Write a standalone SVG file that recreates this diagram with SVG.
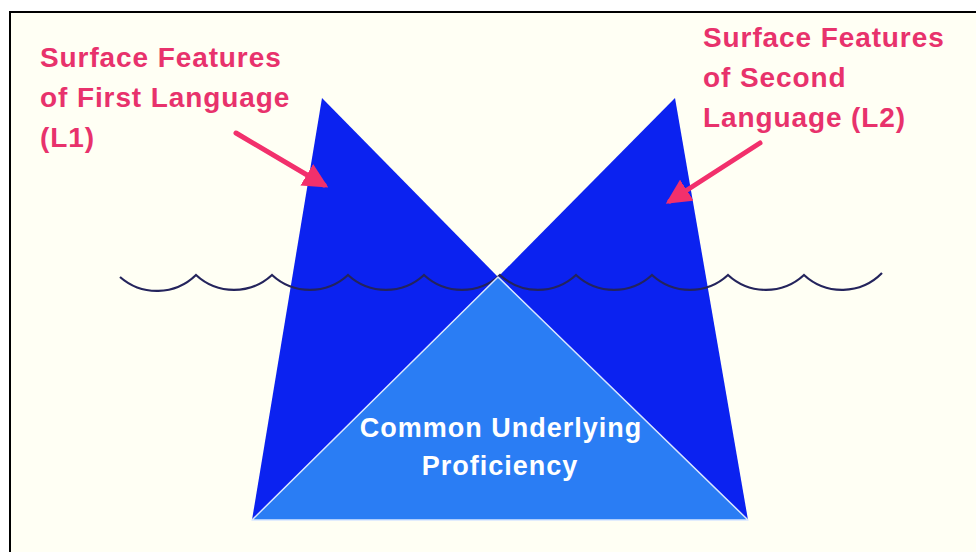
<svg xmlns="http://www.w3.org/2000/svg" width="976" height="552" viewBox="0 0 976 552">
<style>
.lbl{font-family:"Liberation Sans",Arial,sans-serif;font-weight:bold;font-size:28px;letter-spacing:0.9px;fill:#e8326c}
.cup{font-family:"Liberation Sans",Arial,sans-serif;font-weight:bold;font-size:27px;letter-spacing:1px;fill:#ffffff;text-anchor:middle}
.arrow{stroke:#f2306c;stroke-width:5;fill:none;stroke-linecap:round}
</style>
<defs>
<marker id="ah" viewBox="0 0 10 10" refX="8" refY="5" markerWidth="5" markerHeight="5" orient="auto" markerUnits="strokeWidth">
<path d="M0,0 L10,5 L0,10 z" fill="#f2306c"/>
</marker>
</defs>
<rect width="976" height="552" fill="#ffffff"/>
<rect x="10" y="12" width="980" height="560" fill="#fffff4" stroke="#000" stroke-width="2"/>
<g id="l1-iceberg"><polygon points="322,98 498,277 252,520" fill="#0b22f0"/></g>
<g id="l2-iceberg"><polygon points="675,98 498,277 748,520" fill="#0b22f0"/></g>
<g id="waterline">
<path d="M120,277 A56 56 0 0 0 196,275 A56 56 0 0 0 272,275 A56 56 0 0 0 348,275 A56 56 0 0 0 424,275 A56 56 0 0 0 500,275 A56 56 0 0 0 576,275 A56 56 0 0 0 652,275 A56 56 0 0 0 728,275 A56 56 0 0 0 804,275 A56 56 0 0 0 882,273" fill="none" stroke="#24245c" stroke-width="2.2"/>
</g>
<g id="cup">
<polygon points="498,277 252,520 748,520" fill="#2a7df4" stroke="#d8e6ff" stroke-width="1.5" stroke-linejoin="round"/>
<text class="cup" x="501" y="437">Common Underlying</text>
<text class="cup" x="500" y="475">Proficiency</text>
</g>
<g id="label-l1">
<text class="lbl" x="40" y="67">Surface Features</text>
<text class="lbl" x="40" y="107">of First Language</text>
<text class="lbl" x="40" y="147">(L1)</text>
</g>
<g id="label-l2">
<text class="lbl" x="703" y="47">Surface Features</text>
<text class="lbl" x="703" y="87">of Second</text>
<text class="lbl" x="703" y="127">Language (L2)</text>
</g>
<g id="connectors">
<line class="arrow" x1="236" y1="133" x2="324" y2="185" marker-end="url(#ah)"/>
<line class="arrow" x1="760" y1="143" x2="670" y2="201" marker-end="url(#ah)"/>
</g>
</svg>
